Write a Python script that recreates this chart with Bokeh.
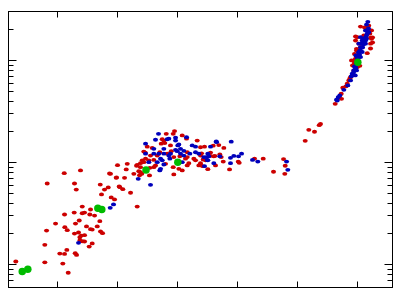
from bokeh.plotting import figure
from bokeh.models import LogAxis, LinearAxis, FixedTicker, LogTicker, Range1d, CustomJSTickFormatter
from bokeh.embed import file_html
from bokeh.resources import INLINE

# x tick positions (no labels shown in the reference)
x_ticks = [1, 2, 3, 4, 5, 6]

red_x = [1.112, 1.383, 1.867, 1.983, 0.828, 1.283, 1.712, 1.845, 1.783, 1.312, 2.028, 1.733, 1.895, 1.95,
         1.412, 1.55, 1.45, 1.412, 1.278, 1.117, 1.538, 1.617, 1.362, 1.705, 1.30, 0.967, 1.122, 1.483,
         1.662, 1.162, 0.817, 1.55, 1.578, 1.283, 1.35, 1.717, 1.75, 1.395, 1.45, 1.372, 1.412, 1.45,
         1.372, 1.578, 1.528, 0.788, 1.155, 1.038, 1.117, 1.295, 1.317, 0.305, 0.788, 1.088, 1.178,
         2.0, 2.162, 2.145, 1.978, 2.117, 1.883, 2.317, 2.383, 2.355, 2.405, 2.367, 2.533, 2.538, 2.605,
         2.038, 2.088, 2.217, 2.328, 2.938, 3.022, 2.928, 2.95, 2.928, 2.812, 3.078, 3.328, 3.15, 2.772,
         2.728, 2.495, 2.578, 2.462, 2.328, 2.383, 2.438, 2.522, 2.605, 2.662, 2.705, 2.828, 2.895, 2.938,
         3.038, 3.162, 3.188, 3.30, 3.383, 3.467, 3.505, 3.605, 3.705, 3.45, 3.688, 3.55, 2.383, 2.272,
         3.40, 3.55, 3.622, 3.728, 3.428, 3.762, 4.012, 4.028, 3.867, 4.283, 4.428, 4.767, 4.795, 4.60,
         4.788, 3.383, 3.417, 3.383, 3.595, 3.772, 5.188, 5.283, 5.362, 5.383, 5.128, 2.745, 2.788,
         3.162, 3.355,
         2.883, 2.55, 2.467, 2.412, 2.80, 2.633, 3.078, 2.438, 3.162, 3.383, 3.272, 3.133, 3.633,
         5.628, 5.695, 5.728, 5.733, 5.755, 5.805, 5.828, 5.855, 5.872, 5.883, 5.938, 5.995, 6.038, 5.955,
         5.95, 5.983, 5.983, 5.995, 6.022, 6.05, 6.217, 6.233, 6.188, 6.15, 6.188, 6.205, 6.105,
         5.967, 6.162, 6.217, 5.938, 5.967, 6.05, 6.25, 5.95, 5.917,
         6.233, 6.117, 5.967, 6.25, 5.90, 6.217]
red_y = [7.85, 8.35, 7.80, 7.13, 6.22, 6.22, 6.08, 5.69, 5.43, 5.43, 5.82, 4.86, 4.54, 4.34,
         3.70, 3.46, 3.23, 3.18, 3.23, 3.09, 3.09, 3.02, 2.70, 2.66, 2.52, 2.52, 2.32, 2.36,
         2.36, 2.17, 2.15, 2.22, 2.20, 2.01, 2.06, 2.11, 2.03, 1.92, 1.94, 1.85, 1.69, 1.68,
         1.72, 1.61, 1.50, 1.56, 1.39, 1.28, 1.27, 1.29, 1.24, 1.07, 1.05, 1.02, 0.83,
         9.41, 9.71, 8.54, 7.08, 7.08, 7.75, 9.29, 8.99, 8.22, 7.75, 7.50, 7.46, 8.87, 8.99,
         5.73, 5.47, 5.05, 3.70, 7.63, 8.67, 8.99, 20.3, 19.1, 19.1, 18.4, 16.4, 17.1, 16.4,
         15.3, 14.3, 13.9, 12.5, 9.49, 9.84, 10.07, 10.5, 10.6, 11.7, 12.6, 12.2, 12.9, 11.3,
         11.5, 11.3, 9.84, 10.5, 9.84, 10.5, 8.60, 11.5, 12.0, 14.3, 14.8, 12.5, 8.04, 7.75,
         12.3, 11.6, 11.6, 11.3, 10.7, 10.2, 10.2, 9.93, 8.54, 10.9, 10.9, 10.8, 9.29, 8.11,
         7.75, 9.55, 9.20, 14.1, 14.6, 13.9, 20.9, 20.0, 23.2, 23.9, 16.3, 16.9, 15.5,
         9.35, 9.35,
         14.7, 11.7, 10.9, 10.5, 9.71, 9.35, 8.35, 12.8, 12.6, 11.7, 10.9, 10.9, 9.35,
         37.6, 43.1, 47.2, 42.1, 54.0, 55.6, 59.1, 63.7, 66.2, 68.6, 79.8, 86.0, 88.7, 96.2,
         92.9, 130, 125, 169, 146, 135, 167, 163, 189, 212, 220, 183, 176,
         104, 118, 146, 100, 172, 215, 168, 116, 89.3,
         197, 211, 157, 150, 100, 131]

blue_x = [1.35, 1.933, 1.878, 2.345, 2.55, 2.705, 2.467, 2.683, 2.633, 2.855, 2.967, 3.15, 3.30, 3.245,
          3.55, 3.65, 3.005, 3.05, 2.967, 2.883, 2.772, 2.688, 2.605, 2.745, 2.662, 2.772, 2.467, 3.105,
          3.205, 3.355, 3.438, 3.522, 3.605, 3.495, 2.872, 2.995, 3.505, 3.478, 3.505, 3.45, 3.705, 3.883,
          3.938, 4.017, 4.067, 3.883, 4.25, 4.338, 4.817, 4.838, 3.645, 3.895, 2.828, 3.022,
          2.967, 2.772, 3.05, 2.855, 2.717, 2.522, 2.717, 2.605, 3.105, 3.30, 3.078,
          5.662, 5.678, 5.772, 5.895, 5.912, 5.962, 5.938, 5.967, 5.972, 5.995, 6.05, 6.078, 6.05, 6.105,
          6.022, 6.078, 6.133, 6.133, 6.188, 6.172,
          6.05, 6.038, 6.022, 5.995, 5.967, 5.912, 5.883, 5.838, 5.705, 5.65, 6.162, 6.133, 6.078, 6.15,
          6.0, 6.033, 6.05, 6.083, 6.10, 6.117, 6.133, 6.15, 6.167, 6.183, 6.15, 6.10, 6.067, 6.017,
          5.983, 5.95, 5.933, 5.983]
blue_y = [1.63, 3.88, 3.59, 6.92, 6.04, 8.35, 12.2, 19.1, 16.7, 17.1, 17.5, 17.7, 14.3, 14.7,
          14.3, 15.8, 14.7, 13.6, 13.3, 12.2, 12.2, 12.2, 12.2, 10.5, 10.07, 9.55, 15.3, 11.7,
          12.2, 12.2, 11.3, 11.5, 9.84, 10.6, 10.9, 12.9, 12.2, 11.3, 10.5, 9.20, 11.5, 11.1,
          11.6, 11.5, 12.2, 9.84, 10.6, 10.2, 10.2, 8.48, 16.1, 16.0, 16.9, 15.0,
          16.4, 13.6, 12.2, 11.7, 10.9, 10.07, 8.67, 13.6, 13.0, 12.6, 10.07,
          40.5, 43.7, 51.6, 69.7, 74.1, 71.3, 79.8, 86.0, 112, 108, 108, 121, 135, 146,
          146, 157, 157, 197, 189, 239,
          169, 125, 112, 100, 83, 71.3, 63.7, 56.9, 45.4, 41.2, 183, 146, 135, 163,
          105, 114, 125, 134, 144, 154, 168, 176, 192, 206, 225, 164, 147, 120,
          93.5, 87.3, 76.3, 79.8]

green_x = [0.412, 0.505, 1.672, 1.738, 2.475, 3.005, 6.005]
green_y = [0.854, 0.90, 3.56, 3.46, 8.44, 10.07, 96.2]

p = figure(width=400, height=300, x_range=Range1d(0.183, 6.583), y_range=Range1d(0.595, 302),
           y_axis_type="log", output_backend="svg", toolbar_location=None,
           min_border_left=8, min_border_right=8, min_border_top=11, min_border_bottom=13)
p.background_fill_color = "white"
p.border_fill_color = "white"
p.outline_line_color = "black"
p.outline_line_width = 1
p.grid.visible = False

p.add_layout(LinearAxis(), "above")
p.add_layout(LogAxis(), "right")

empty = CustomJSTickFormatter(code="return ''")
for ax in p.xaxis:
    ax.ticker = FixedTicker(ticks=x_ticks, minor_ticks=[])
    ax.major_tick_in = 6
    ax.major_tick_out = 0
    ax.minor_tick_line_color = None
for ax in p.yaxis:
    ax.ticker = LogTicker(num_minor_ticks=10)
    ax.major_tick_in = 8
    ax.major_tick_out = 0
    ax.minor_tick_in = 5
    ax.minor_tick_out = 0
for ax in p.xaxis + p.yaxis:
    ax.formatter = empty
    ax.major_label_text_font_size = "0px"
    ax.major_label_standoff = 0
    ax.axis_line_color = "black"
    ax.major_tick_line_color = "black"

p.ellipse(red_x, red_y, width=5, height=3.8, width_units="screen", height_units="screen",
          fill_color="#cc0000", line_color=None)
p.ellipse(blue_x, blue_y, width=5, height=3.8, width_units="screen", height_units="screen",
          fill_color="#0000bb", line_color=None)
p.scatter(green_x, green_y, size=7.5, fill_color="#00bb00", line_color=None)

open("out.html", "w").write(file_html(p, INLINE))
